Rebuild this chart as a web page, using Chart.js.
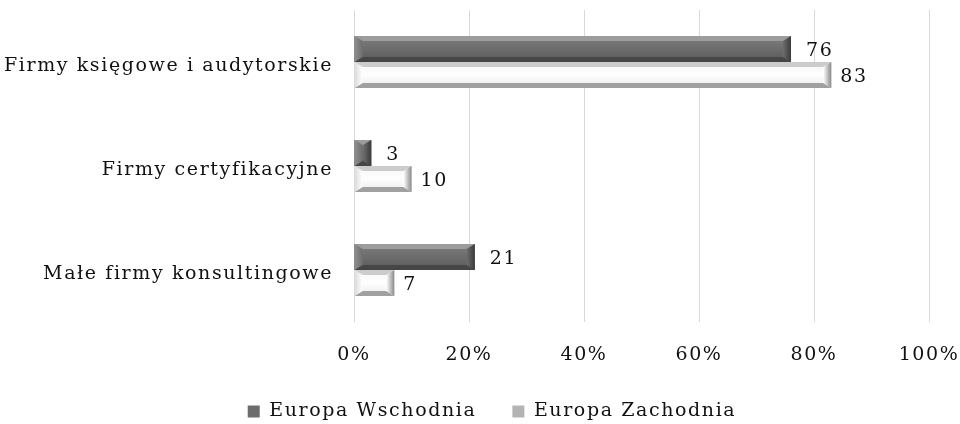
<!DOCTYPE html>
<html>
<head>
<meta charset="utf-8">
<script src="https://cdn.jsdelivr.net/npm/chart.js@4.4.1/dist/chart.umd.min.js"></script>
<style>
  html, body { margin: 0; padding: 0; background: #ffffff; }
  #wrap { width: 960px; height: 424px; }
</style>
</head>
<body>
<div id="wrap"><canvas id="chart" width="960" height="424"></canvas></div>
<script>
// Categories and series
const categories = ['Firmy księgowe i audytorskie', 'Firmy certyfikacyjne', 'Małe firmy konsultingowe'];
const seriesNames = ['Europa Wschodnia', 'Europa Zachodnia'];
const eastValues = [76, 3, 21];
const westValues = [83, 10, 7];
const xTickLabels = ['0%', '20%', '40%', '60%', '80%', '100%'];

const FONT = "'DejaVu Serif', 'Liberation Serif', serif";
const FONT_SIZE = 19;
const SPACING = '1.6px';

// Shading used for the bevelled bar faces and edges
const shades = [
  { base: '#6c6c6c', face: [[0, '#7e7e7e'], [0.45, '#6e6e6e'], [1, '#5a5a5a']],
    top: '#9c9c9c', bottom: '#464646', left: '#8f8f8f', right: '#3a3a3a', labelGap: 15 },
  { base: '#b4b4b4', face: [[0, '#f2f2f2'], [0.45, '#ffffff'], [1, '#ececec']],
    top: '#cccccc', bottom: '#a0a0a0', left: '#d9d9d9', right: '#8a8a8a', labelGap: 9 }
];

Chart.defaults.font.family = FONT;
Chart.defaults.font.size = FONT_SIZE;
Chart.defaults.color = '#111111';

// Legend box: fixed height so its row sits near the bottom edge,
// and nudged slightly right of the canvas centre
const LEGEND_HEIGHT = 58;
const LEGEND_SHIFT = 12;

const spacingPlugin = {
  id: 'spacing',
  afterInit(chart) {
    const legend = chart.legend;
    if (legend && !legend._fixedFit) {
      const fit = legend.fit.bind(legend);
      legend.fit = function () { fit(); this.height = LEGEND_HEIGHT; };
      legend._fixedFit = true;
    }
  },
  afterLayout(chart) {
    if (chart.legend) {
      chart.legend.left += LEGEND_SHIFT;
      chart.legend.right += LEGEND_SHIFT;
    }
  },
  beforeUpdate(chart) { chart.ctx.letterSpacing = SPACING; },
  beforeLayout(chart) { chart.ctx.letterSpacing = SPACING; },
  beforeDraw(chart) { chart.ctx.letterSpacing = SPACING; }
};

function poly(ctx, pts, fill) {
  ctx.beginPath();
  ctx.moveTo(pts[0][0], pts[0][1]);
  for (let i = 1; i < pts.length; i++) ctx.lineTo(pts[i][0], pts[i][1]);
  ctx.closePath();
  ctx.fillStyle = fill;
  ctx.fill();
}

const bevelPlugin = {
  id: 'bevel',
  afterDatasetsDraw(chart) {
    const ctx = chart.ctx;
    ctx.save();
    chart.data.datasets.forEach((ds, di) => {
      const meta = chart.getDatasetMeta(di);
      if (meta.hidden) return;
      const st = shades[di];
      meta.data.forEach((bar, i) => {
        const p = bar.getProps(['x', 'y', 'base', 'height'], true);
        const L = Math.min(p.base, p.x), R = Math.max(p.base, p.x);
        const T = p.y - p.height / 2, B = p.y + p.height / 2;
        const bh = Math.min(8, (R - L) / 2), bv = Math.min(5, (B - T) / 2);

        const g = ctx.createLinearGradient(0, T, 0, B);
        st.face.forEach(s => g.addColorStop(s[0], s[1]));
        ctx.fillStyle = g;
        ctx.fillRect(L, T, R - L, B - T);

        poly(ctx, [[L, T], [R, T], [R - bh, T + bv], [L + bh, T + bv]], st.top);
        poly(ctx, [[L, B], [R, B], [R - bh, B - bv], [L + bh, B - bv]], st.bottom);
        const gl = ctx.createLinearGradient(L, 0, L + bh, 0);
        gl.addColorStop(0, st.left); gl.addColorStop(1, st.face[1][1]);
        poly(ctx, [[L, T], [L + bh, T + bv], [L + bh, B - bv], [L, B]], gl);
        const gr = ctx.createLinearGradient(R - bh, 0, R, 0);
        gr.addColorStop(0, st.face[1][1]); gr.addColorStop(1, st.right);
        poly(ctx, [[R, T], [R - bh, T + bv], [R - bh, B - bv], [R, B]], gr);

        // value label
        ctx.font = FONT_SIZE + 'px ' + FONT;
        ctx.fillStyle = '#111111';
        ctx.textAlign = 'left';
        ctx.textBaseline = 'middle';
        ctx.fillText(String(ds.data[i]), R + st.labelGap, p.y + 2);
      });
    });
    ctx.restore();
  }
};

new Chart(document.getElementById('chart'), {
  type: 'bar',
  data: {
    labels: categories,
    datasets: [
      { label: seriesNames[0], data: eastValues, backgroundColor: shades[0].base, borderWidth: 0 },
      { label: seriesNames[1], data: westValues, backgroundColor: shades[1].base, borderWidth: 0 }
    ]
  },
  options: {
    indexAxis: 'y',
    responsive: false,
    animation: false,
    devicePixelRatio: 1,
    layout: { padding: { left: 0, right: 0, top: 10, bottom: 0 } },
    datasets: { bar: { categoryPercentage: 0.5, barPercentage: 1.0 } },
    scales: {
      x: {
        min: 0, max: 100,
        ticks: { stepSize: 20, padding: 22, color: '#111111',
          callback: (v, i) => xTickLabels[i] },
        grid: { color: '#d9d9d9', lineWidth: 1, drawTicks: false },
        border: { display: false },
        afterFit(scale) {
          scale.height = 44;
          scale.paddingLeft = 0;
          scale.paddingRight = 31;
        }
      },
      y: {
        ticks: { padding: 21, color: '#111111', labelOffset: 4 },
        grid: { display: false, drawTicks: false },
        border: { display: false },
        afterFit(scale) {
          scale.width = 354;
          scale.paddingTop = 0;
          scale.paddingBottom = 0;
        }
      }
    },
    plugins: {
      legend: {
        position: 'bottom',
        labels: { boxWidth: 12, boxHeight: 12, padding: 36, color: '#111111',
          font: { size: FONT_SIZE, family: FONT } }
      },
      tooltip: { enabled: false }
    }
  },
  plugins: [spacingPlugin, bevelPlugin]
});
</script>
</body>
</html>
